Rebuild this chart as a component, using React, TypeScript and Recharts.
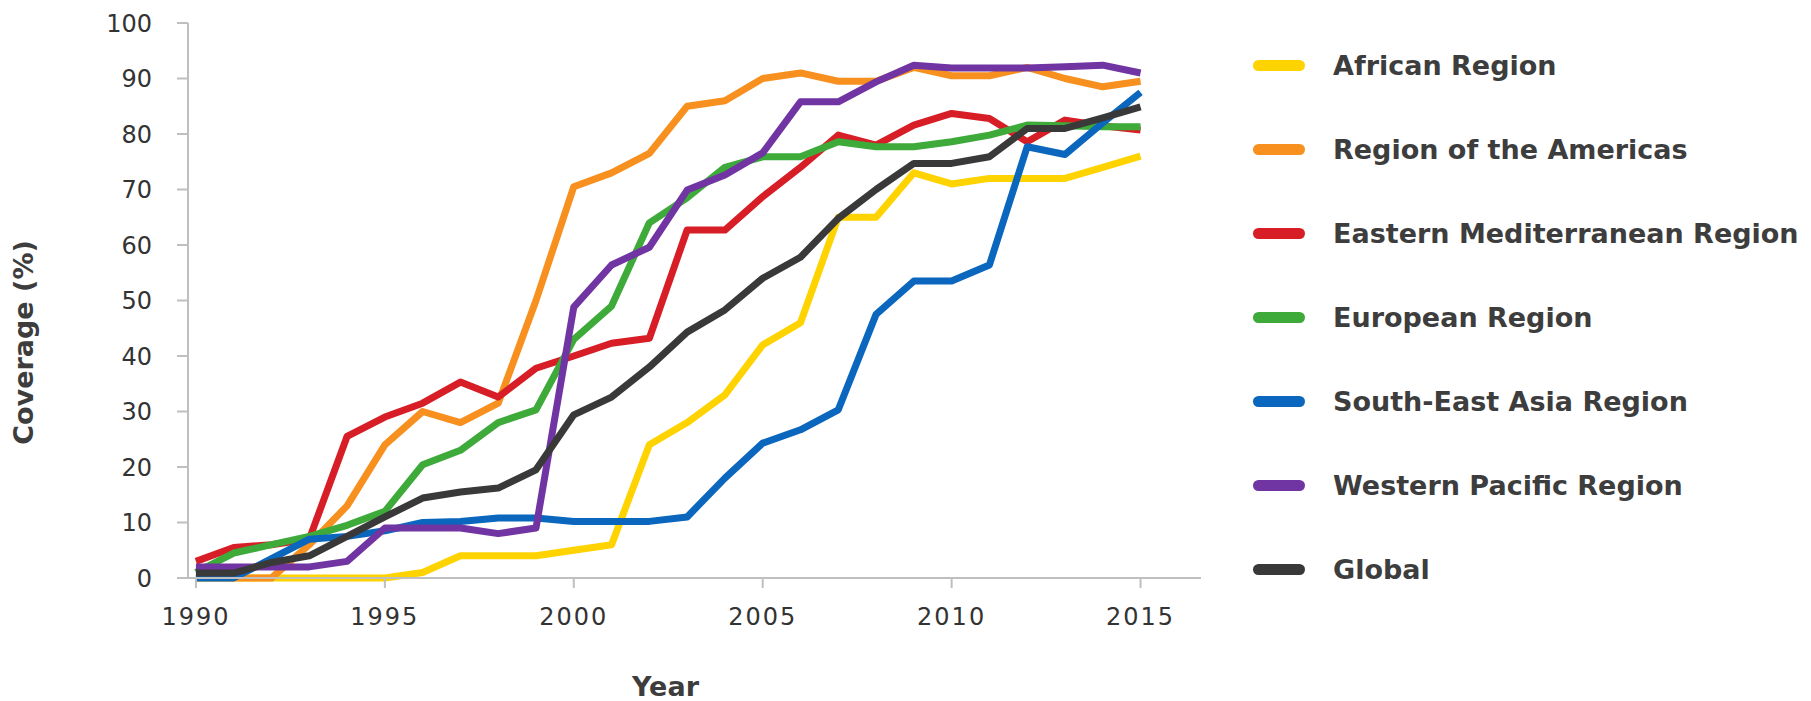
import React from 'react';
import { LineChart, Line, XAxis, YAxis, Legend, Label } from 'recharts';

const years = [1990, 1991, 1992, 1993, 1994, 1995, 1996, 1997, 1998, 1999, 2000, 2001, 2002, 2003, 2004, 2005, 2006, 2007, 2008, 2009, 2010, 2011, 2012, 2013, 2014, 2015];

const african = [0, 0, 0, 0, 0, 0, 1, 4, 4, 4, 5, 6, 24, 28, 33, 42, 46, 65, 65, 73, 71, 72, 72, 72, 74, 76];
const americas = [0, 0, 0, 6, 13, 24, 30, 28, 31.5, 50, 70.5, 73, 76.5, 85, 86, 90, 91, 89.5, 89.5, 92, 90.5, 90.5, 92, 90, 88.5, 89.5];
const easternMed = [3, 5.5, 6, 7, 25.5, 29, 31.5, 35.3, 32.6, 37.8, 40, 42.3, 43.2, 62.7, 62.7, 68.7, 74, 79.8, 78, 81.6, 83.7, 82.8, 78.6, 82.5, 81.5, 80.7];
const european = [1, 4.5, 6, 7.5, 9.5, 12, 20.4, 23, 28, 30.3, 43, 49, 64, 68.5, 74, 75.9, 75.9, 78.6, 77.7, 77.7, 78.6, 79.8, 81.6, 81.5, 81.3, 81.3];
const seAsia = [0, 0, 3.5, 7, 7.5, 8.5, 10, 10.2, 10.8, 10.8, 10.2, 10.2, 10.2, 11, 18, 24.3, 26.7, 30.3, 47.5, 53.5, 53.5, 56.4, 77.7, 76.3, 82, 87.5];
const westernPac = [2, 2, 2, 2, 3, 9, 9, 9, 8, 9, 48.8, 56.4, 59.6, 69.9, 72.6, 76.6, 85.8, 85.8, 89.4, 92.4, 91.9, 91.9, 91.9, 92.1, 92.4, 91];
const globalCov = [0.9, 0.9, 2.8, 4, 7.5, 11, 14.4, 15.5, 16.2, 19.5, 29.4, 32.6, 38, 44.3, 48.3, 54, 57.8, 64.8, 70, 74.7, 74.7, 75.9, 81, 81, 82.9, 84.9];

const xTicks = [1990, 1995, 2000, 2005, 2010, 2015];
const yTicks = [0, 10, 20, 30, 40, 50, 60, 70, 80, 90, 100];

const seriesDefs = [
  { key: 'african', name: 'African Region', values: african, color: '#FFD300' },
  { key: 'americas', name: 'Region of the Americas', values: americas, color: '#F7901E' },
  { key: 'easternMed', name: 'Eastern Mediterranean Region', values: easternMed, color: '#D71E26' },
  { key: 'european', name: 'European Region', values: european, color: '#3DAA3A' },
  { key: 'seAsia', name: 'South-East Asia Region', values: seAsia, color: '#0A67BD' },
  { key: 'westernPac', name: 'Western Pacific Region', values: westernPac, color: '#7135A3' },
  { key: 'global', name: 'Global', values: globalCov, color: '#393939' },
];

const seriesOrder = seriesDefs.map((s) => s.name);

const data = years.map((year, i) => {
  const row: Record<string, number> = { year };
  seriesDefs.forEach((s) => {
    row[s.key] = s.values[i];
  });
  return row;
});

const yTickStyle = { fontFamily: 'DejaVu Sans', fontSize: 24, fill: '#333333' };
const xTickStyle = { fontFamily: 'DejaVu Sans', fontSize: 24, fill: '#333333', letterSpacing: 2 };
const axisStroke = '#BFBFBF';

const renderLegend = (props: any) => {
  const payload = [...(props.payload || [])].sort(
    (a: any, b: any) => seriesOrder.indexOf(a.value) - seriesOrder.indexOf(b.value)
  );
  return (
    <div style={{ fontFamily: 'DejaVu Sans', fontWeight: 'bold', fontSize: 27, color: '#3d3d3d' }}>
      {payload.map((p: any) => (
        <div key={p.value} style={{ display: 'flex', alignItems: 'center', height: 84, whiteSpace: 'nowrap' }}>
          <span style={{ display: 'inline-block', width: 52, height: 11, borderRadius: 5.5, background: p.color, marginRight: 28 }} />
          <span>{p.value}</span>
        </div>
      ))}
    </div>
  );
};

export default function App() {
  return (
    <div style={{ position: 'absolute', left: 0, top: 0, width: 1811, height: 701, background: '#ffffff' }}>
      <LineChart width={1811} height={701} data={data} margin={{ top: 23, right: 610, bottom: 63, left: 0 }}>
        <XAxis
          dataKey="year"
          type="number"
          scale="linear"
          domain={[1989.79, 2016.6]}
          ticks={xTicks}
          interval={0}
          height={60}
          stroke={axisStroke}
          strokeWidth={2}
          tickSize={10}
          tickMargin={20}
          tick={xTickStyle}
          tickLine={{ stroke: axisStroke, strokeWidth: 2 }}
        >
          <Label
            value="Year"
            position="bottom"
            offset={39}
            dx={-29}
            style={{ fontFamily: 'DejaVu Sans', fontWeight: 'bold', fontSize: 27, fill: '#3d3d3d' }}
          />
        </XAxis>
        <YAxis
          type="number"
          domain={[0, 100]}
          ticks={yTicks}
          interval={0}
          width={188}
          stroke={axisStroke}
          strokeWidth={2}
          tickSize={11}
          tickMargin={25}
          tick={yTickStyle}
          tickLine={{ stroke: axisStroke, strokeWidth: 2 }}
        >
          <Label
            value="Coverage (%)"
            angle={-90}
            position="insideLeft"
            offset={23}
            dy={42}
            style={{ fontFamily: 'DejaVu Sans', fontWeight: 'bold', fontSize: 27, fill: '#3d3d3d', textAnchor: 'middle' }}
          />
        </YAxis>
        <Legend
          layout="vertical"
          align="center"
          verticalAlign="middle"
          content={renderLegend}
          wrapperStyle={{ left: 1253, top: 23, width: 558 }}
        />
        {seriesDefs.map((s) => (
          <Line
            key={s.key}
            dataKey={s.key}
            name={s.name}
            stroke={s.color}
            strokeWidth={7}
            strokeLinejoin="round"
            dot={false}
            activeDot={false}
            isAnimationActive={false}
            type="linear"
          />
        ))}
      </LineChart>
    </div>
  );
}
